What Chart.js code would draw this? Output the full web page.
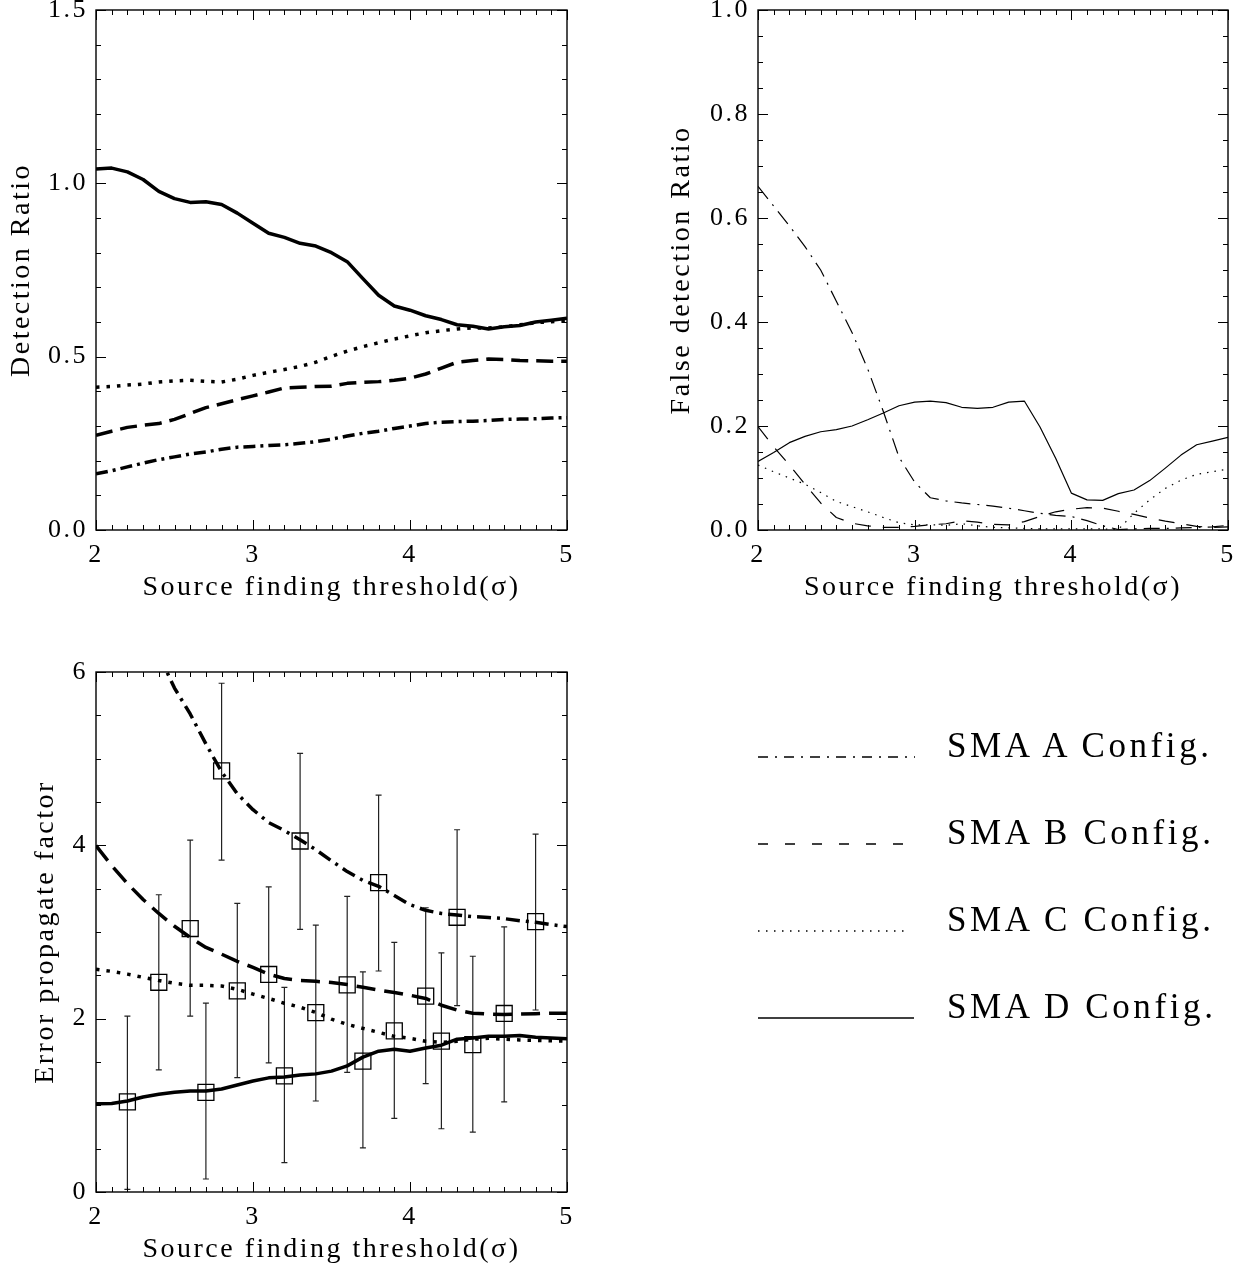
<!DOCTYPE html>
<html>
<head>
<meta charset="utf-8">
<title>SMA source finding</title>
<script src="https://cdn.jsdelivr.net/npm/chart.js@4.4.1/dist/chart.umd.min.js"></script>
<style>
    html, body { margin: 0; padding: 0; background: #fff; overflow: hidden; }
    #page { position: relative; width: 1249px; height: 1268px; }
    #page canvas { position: absolute; }
    #legend { position: absolute; left: 0; top: 0; pointer-events: none; }
</style>
</head>
<body>
<div id="page">
    <canvas id="detect-chart" width="620" height="620" style="left:0;top:0"></canvas>
    <canvas id="false-chart" width="609" height="620" style="left:640px;top:0"></canvas>
    <canvas id="error-chart" width="620" height="630" style="left:0;top:652px"></canvas>
    <svg id="legend" width="1249" height="1268" xmlns="http://www.w3.org/2000/svg"></svg>
</div>
<script>
// thresholds in sigma
const thresholds = [2.0, 2.1, 2.2, 2.3, 2.4, 2.5, 2.6, 2.7, 2.8, 2.9, 3.0, 3.1, 3.2, 3.3, 3.4, 3.5,
    3.6, 3.7, 3.8, 3.9, 4.0, 4.1, 4.2, 4.3, 4.4, 4.5, 4.6, 4.7, 4.8, 4.9, 5.0];

const configNames = ['SMA A Config.', 'SMA B Config.', 'SMA C Config.', 'SMA D Config.'];

// detection ratio
const detectA = [0.162, 0.171, 0.182, 0.193, 0.203, 0.211, 0.219, 0.225, 0.233, 0.239, 0.241, 0.244, 0.246, 0.250, 0.255, 0.262,
    0.271, 0.279, 0.285, 0.293, 0.300, 0.307, 0.311, 0.313, 0.314, 0.316, 0.319, 0.320, 0.321, 0.323, 0.324];
const detectB = [0.273, 0.285, 0.296, 0.302, 0.307, 0.319, 0.336, 0.353, 0.364, 0.376, 0.387, 0.398, 0.410, 0.412, 0.414, 0.415,
    0.423, 0.426, 0.428, 0.432, 0.438, 0.450, 0.467, 0.484, 0.489, 0.493, 0.492, 0.489, 0.488, 0.487, 0.487];
const detectC = [0.412, 0.414, 0.418, 0.421, 0.427, 0.430, 0.432, 0.429, 0.427, 0.435, 0.446, 0.455, 0.463, 0.472, 0.484, 0.501,
    0.516, 0.529, 0.540, 0.551, 0.560, 0.569, 0.575, 0.580, 0.583, 0.583, 0.586, 0.592, 0.598, 0.601, 0.603];
const detectD = [1.041, 1.044, 1.033, 1.011, 0.977, 0.956, 0.945, 0.947, 0.939, 0.914, 0.885, 0.856, 0.844, 0.827, 0.819, 0.800,
    0.774, 0.725, 0.677, 0.646, 0.634, 0.618, 0.607, 0.592, 0.588, 0.580, 0.586, 0.590, 0.600, 0.605, 0.611];

// false detection ratio
const falseA = [0.661, 0.623, 0.585, 0.545, 0.500, 0.440, 0.380, 0.310, 0.228, 0.140, 0.092, 0.062, 0.056, 0.052, 0.049, 0.046,
    0.042, 0.037, 0.032, 0.028, 0.026, 0.018, 0.008, 0.001, 0.002, 0.003, 0.003, 0.004, 0.005, 0.006, 0.009];
const falseB = [0.199, 0.160, 0.125, 0.088, 0.052, 0.024, 0.013, 0.008, 0.005, 0.005, 0.007, 0.010, 0.012, 0.018, 0.015, 0.011,
    0.010, 0.016, 0.026, 0.035, 0.040, 0.043, 0.042, 0.036, 0.030, 0.023, 0.017, 0.012, 0.007, 0.005, 0.006];
const falseC = [0.125, 0.112, 0.100, 0.088, 0.072, 0.055, 0.045, 0.035, 0.024, 0.014, 0.010, 0.010, 0.009, 0.012, 0.008, 0.005,
    0.004, 0.003, 0.002, 0.002, 0.002, 0.002, 0.002, 0.001, 0.032, 0.058, 0.080, 0.096, 0.107, 0.112, 0.117];
const falseD = [0.132, 0.149, 0.168, 0.180, 0.189, 0.193, 0.200, 0.212, 0.225, 0.239, 0.246, 0.248, 0.245, 0.236, 0.234, 0.236,
    0.246, 0.248, 0.198, 0.138, 0.071, 0.058, 0.057, 0.070, 0.077, 0.095, 0.119, 0.144, 0.164, 0.171, 0.178];

// error propagate factor (A runs off the top below 2.4)
const errorA = [null, null, null, null, 6.2, 5.815, 5.516, 5.170, 4.848, 4.595, 4.411, 4.263, 4.171, 4.065, 3.950, 3.821,
    3.697, 3.596, 3.527, 3.421, 3.315, 3.250, 3.214, 3.195, 3.177, 3.168, 3.154, 3.131, 3.112, 3.085, 3.062];
const errorB = [3.996, 3.766, 3.559, 3.375, 3.214, 3.066, 2.937, 2.822, 2.744, 2.661, 2.592, 2.514, 2.463, 2.440, 2.431, 2.417,
    2.394, 2.362, 2.330, 2.302, 2.270, 2.233, 2.155, 2.099, 2.063, 2.053, 2.049, 2.053, 2.058, 2.063, 2.063];
const errorC = [2.569, 2.546, 2.514, 2.477, 2.440, 2.408, 2.385, 2.385, 2.376, 2.339, 2.284, 2.233, 2.178, 2.132, 2.072, 1.994,
    1.934, 1.888, 1.842, 1.796, 1.773, 1.740, 1.727, 1.740, 1.763, 1.773, 1.763, 1.754, 1.750, 1.745, 1.740];
const errorD = [1.018, 1.022, 1.050, 1.096, 1.128, 1.151, 1.165, 1.165, 1.188, 1.234, 1.280, 1.317, 1.326, 1.349, 1.363, 1.395,
    1.455, 1.556, 1.625, 1.648, 1.625, 1.662, 1.694, 1.763, 1.777, 1.796, 1.796, 1.805, 1.786, 1.777, 1.768];

// measured points with error bars
const pointX = [2.2, 2.4, 2.6, 2.7, 2.8, 2.9, 3.1, 3.2, 3.3, 3.4, 3.6, 3.7, 3.8, 3.9, 4.1, 4.2, 4.3, 4.4, 4.6, 4.8];
const pointY = [1.04, 2.42, 3.04, 1.15, 4.86, 2.32, 2.51, 1.34, 4.05, 2.07, 2.39, 1.51, 3.57, 1.86, 2.26, 1.74, 3.17, 1.70, 2.06, 3.12];
const pointHigh = [2.03, 3.43, 4.06, 2.18, 5.87, 3.33, 3.52, 2.36, 5.06, 3.08, 3.41, 2.54, 4.58, 2.88, 3.28, 2.76, 4.18, 2.72, 3.06, 4.13];
const pointLow = [0.03, 1.41, 2.03, 0.15, 3.83, 1.32, 1.49, 0.34, 3.03, 1.05, 1.38, 0.51, 2.55, 0.85, 1.25, 0.73, 2.15, 0.69, 1.04, 2.10];

const FONT = "'Liberation Serif', 'Times New Roman', serif";
const TICK_FONT = {family: FONT, size: 26, lineHeight: 1};
const TITLE_FONT = {family: FONT, size: 28, lineHeight: 1};

Chart.defaults.font.family = FONT;
Chart.defaults.font.size = 26;
Chart.defaults.color = '#000';

function isMajor(v, step) {
    const r = v / step;
    return Math.abs(r - Math.round(r)) < 1e-6;
}

// canvas text in the original is widely spaced
const spacing = {
    id: 'spacing',
    beforeUpdate(chart) { chart.ctx.letterSpacing = '2.5px'; },
    beforeDraw(chart) { chart.ctx.letterSpacing = '2.5px'; }
};

// box round the plot and inward ticks on all four sides
const frameTicks = {
    id: 'frameTicks',
    afterDatasetsDraw(chart, args, opts) {
        const ctx = chart.ctx;
        const a = chart.chartArea;
        ctx.save();
        ctx.strokeStyle = '#000';
        ctx.lineWidth = 1.4;
        ctx.strokeRect(a.left, a.top, a.right - a.left, a.bottom - a.top);
        ctx.lineWidth = 1;
        ['x', 'y'].forEach(id => {
            const scale = chart.scales[id];
            scale.ticks.forEach(t => {
                const len = isMajor(t.value, opts[id]) ? 10 : 5;
                const p = Math.round(scale.getPixelForValue(t.value)) + 0.5;
                ctx.beginPath();
                if (id === 'x') {
                    ctx.moveTo(p, a.bottom); ctx.lineTo(p, a.bottom - len);
                    ctx.moveTo(p, a.top); ctx.lineTo(p, a.top + len);
                } else {
                    ctx.moveTo(a.left, p); ctx.lineTo(a.left + len, p);
                    ctx.moveTo(a.right, p); ctx.lineTo(a.right - len, p);
                }
                ctx.stroke();
            });
        });
        ctx.restore();
    }
};

const errorBars = {
    id: 'errorBars',
    beforeDatasetsDraw(chart) {
        const ctx = chart.ctx;
        const xs = chart.scales.x, ys = chart.scales.y;
        chart.data.datasets.forEach(ds => {
            if (!ds.errorBars) return;
            ctx.save();
            ctx.strokeStyle = '#222';
            ctx.lineWidth = 1.2;
            ds.data.forEach(p => {
                const px = xs.getPixelForValue(p.x);
                const top = ys.getPixelForValue(p.yMax);
                const bot = ys.getPixelForValue(p.yMin);
                ctx.beginPath();
                ctx.moveTo(px, top); ctx.lineTo(px, bot);
                ctx.moveTo(px - 3, top); ctx.lineTo(px + 3, top);
                ctx.moveTo(px - 3, bot); ctx.lineTo(px + 3, bot);
                ctx.stroke();
            });
            ctx.restore();
        });
    }
};

function curve(values, dash, width) {
    return {
        data: thresholds.map((x, i) => ({x: x, y: values[i]})),
        borderColor: '#000',
        borderWidth: width,
        borderDash: dash,
        borderCapStyle: 'butt',
        borderJoinStyle: 'round',
        pointRadius: 0,
        fill: false
    };
}

function buildPanel(id, box, setup) {
    const canvas = document.getElementById(id);
    const w = canvas.width, h = canvas.height;
    return new Chart(canvas, {
        type: 'line',
        data: {datasets: setup.datasets},
        options: {
            responsive: false,
            animation: false,
            events: [],
            layout: {padding: {left: 0, top: box.top, right: w - box.right, bottom: 0}},
            plugins: {
                legend: {display: false},
                tooltip: {enabled: false},
                frameTicks: {x: 1, y: setup.yMajor}
            },
            scales: {
                x: {
                    type: 'linear', min: 2, max: 5,
                    grid: {display: false, drawTicks: false},
                    border: {display: false},
                    ticks: {
                        stepSize: 0.1, autoSkip: false, maxRotation: 0, padding: 12, color: '#000',
                        font: TICK_FONT,
                        callback: v => isMajor(v, 1) ? String(Math.round(v)) : ''
                    },
                    title: {
                        display: true, text: 'Source finding threshold(σ)', color: '#000',
                        font: TITLE_FONT,
                        padding: {top: 0, bottom: 18}
                    },
                    afterFit: s => { s.height = h - box.bottom; s.paddingLeft = 0; s.paddingRight = 0; }
                },
                y: {
                    type: 'linear', min: setup.yMin, max: setup.yMax,
                    grid: {display: false, drawTicks: false},
                    border: {display: false},
                    ticks: {
                        stepSize: setup.yStep, autoSkip: false, padding: 8, color: '#000',
                        font: TICK_FONT,
                        callback: v => isMajor(v, setup.yMajor) ? setup.yFormat(v) : ''
                    },
                    title: {
                        display: true, text: setup.yTitle, color: '#000',
                        font: TITLE_FONT,
                        padding: {top: setup.yTitlePad, bottom: 0}
                    },
                    afterFit: s => { s.width = box.left; s.paddingTop = 0; s.paddingBottom = 0; }
                }
            }
        },
        plugins: [spacing, frameTicks, errorBars]
    });
}

buildPanel('detect-chart', {left: 96, right: 567, top: 10, bottom: 530}, {
    yMin: 0, yMax: 1.5, yStep: 0.1, yMajor: 0.5,
    yFormat: v => v.toFixed(1),
    yTitle: 'Detection Ratio', yTitlePad: 8,
    datasets: [
        curve(detectA, [12, 5, 3, 5], 3.5),
        curve(detectB, [17, 8], 3.5),
        curve(detectC, [3.5, 7], 3.5),
        curve(detectD, [], 3.5)
    ]
});

buildPanel('false-chart', {left: 118, right: 588, top: 10, bottom: 530}, {
    yMin: 0, yMax: 1.0, yStep: 0.05, yMajor: 0.2,
    yFormat: v => v.toFixed(1),
    yTitle: 'False detection Ratio', yTitlePad: 28,
    datasets: [
        curve(falseA, [16, 7, 2, 7], 1.2),
        curve(falseB, [16, 12], 1.2),
        curve(falseC, [1.5, 6], 1.2),
        curve(falseD, [], 1.2)
    ]
});

buildPanel('error-chart', {left: 96, right: 567, top: 20, bottom: 540}, {
    yMin: 0, yMax: 6, yStep: 0.5, yMajor: 2,
    yFormat: v => String(Math.round(v)),
    yTitle: 'Error propagate factor', yTitlePad: 32,
    datasets: [
        curve(errorA, [14, 6, 3, 6], 3.5),
        curve(errorB, [19, 9], 3.5),
        curve(errorC, [3.5, 7], 3.5),
        curve(errorD, [], 3.5),
        {
            errorBars: true,
            showLine: false,
            data: pointX.map((x, i) => ({x: x, y: pointY[i], yMin: pointLow[i], yMax: pointHigh[i]})),
            pointStyle: 'rect',
            pointRadius: 11.3,
            borderWidth: 1.3,
            borderColor: '#000',
            backgroundColor: 'rgba(0,0,0,0)'
        }
    ]
});

// legend: line samples and names
const legendDash = ['10 7 2 7', '10 17', '1.5 6.5', ''];
const legendEnd = [915, 903, 908, 914];
const legendRows = [757, 844, 931, 1018];
const svg = document.getElementById('legend');
const NS = 'http://www.w3.org/2000/svg';
configNames.forEach((name, i) => {
    const line = document.createElementNS(NS, 'line');
    line.setAttribute('x1', 758);
    line.setAttribute('x2', legendEnd[i]);
    line.setAttribute('y1', legendRows[i]);
    line.setAttribute('y2', legendRows[i]);
    line.setAttribute('stroke', '#000');
    line.setAttribute('stroke-width', '1.5');
    if (legendDash[i]) line.setAttribute('stroke-dasharray', legendDash[i]);
    svg.appendChild(line);

    const text = document.createElementNS(NS, 'text');
    text.setAttribute('x', 947);
    text.setAttribute('y', legendRows[i]);
    text.setAttribute('font-family', FONT);
    text.setAttribute('font-size', '35');
    text.setAttribute('letter-spacing', '3.6');
    text.setAttribute('fill', '#000');
    text.textContent = name;
    svg.appendChild(text);
});
</script>
</body>
</html>
